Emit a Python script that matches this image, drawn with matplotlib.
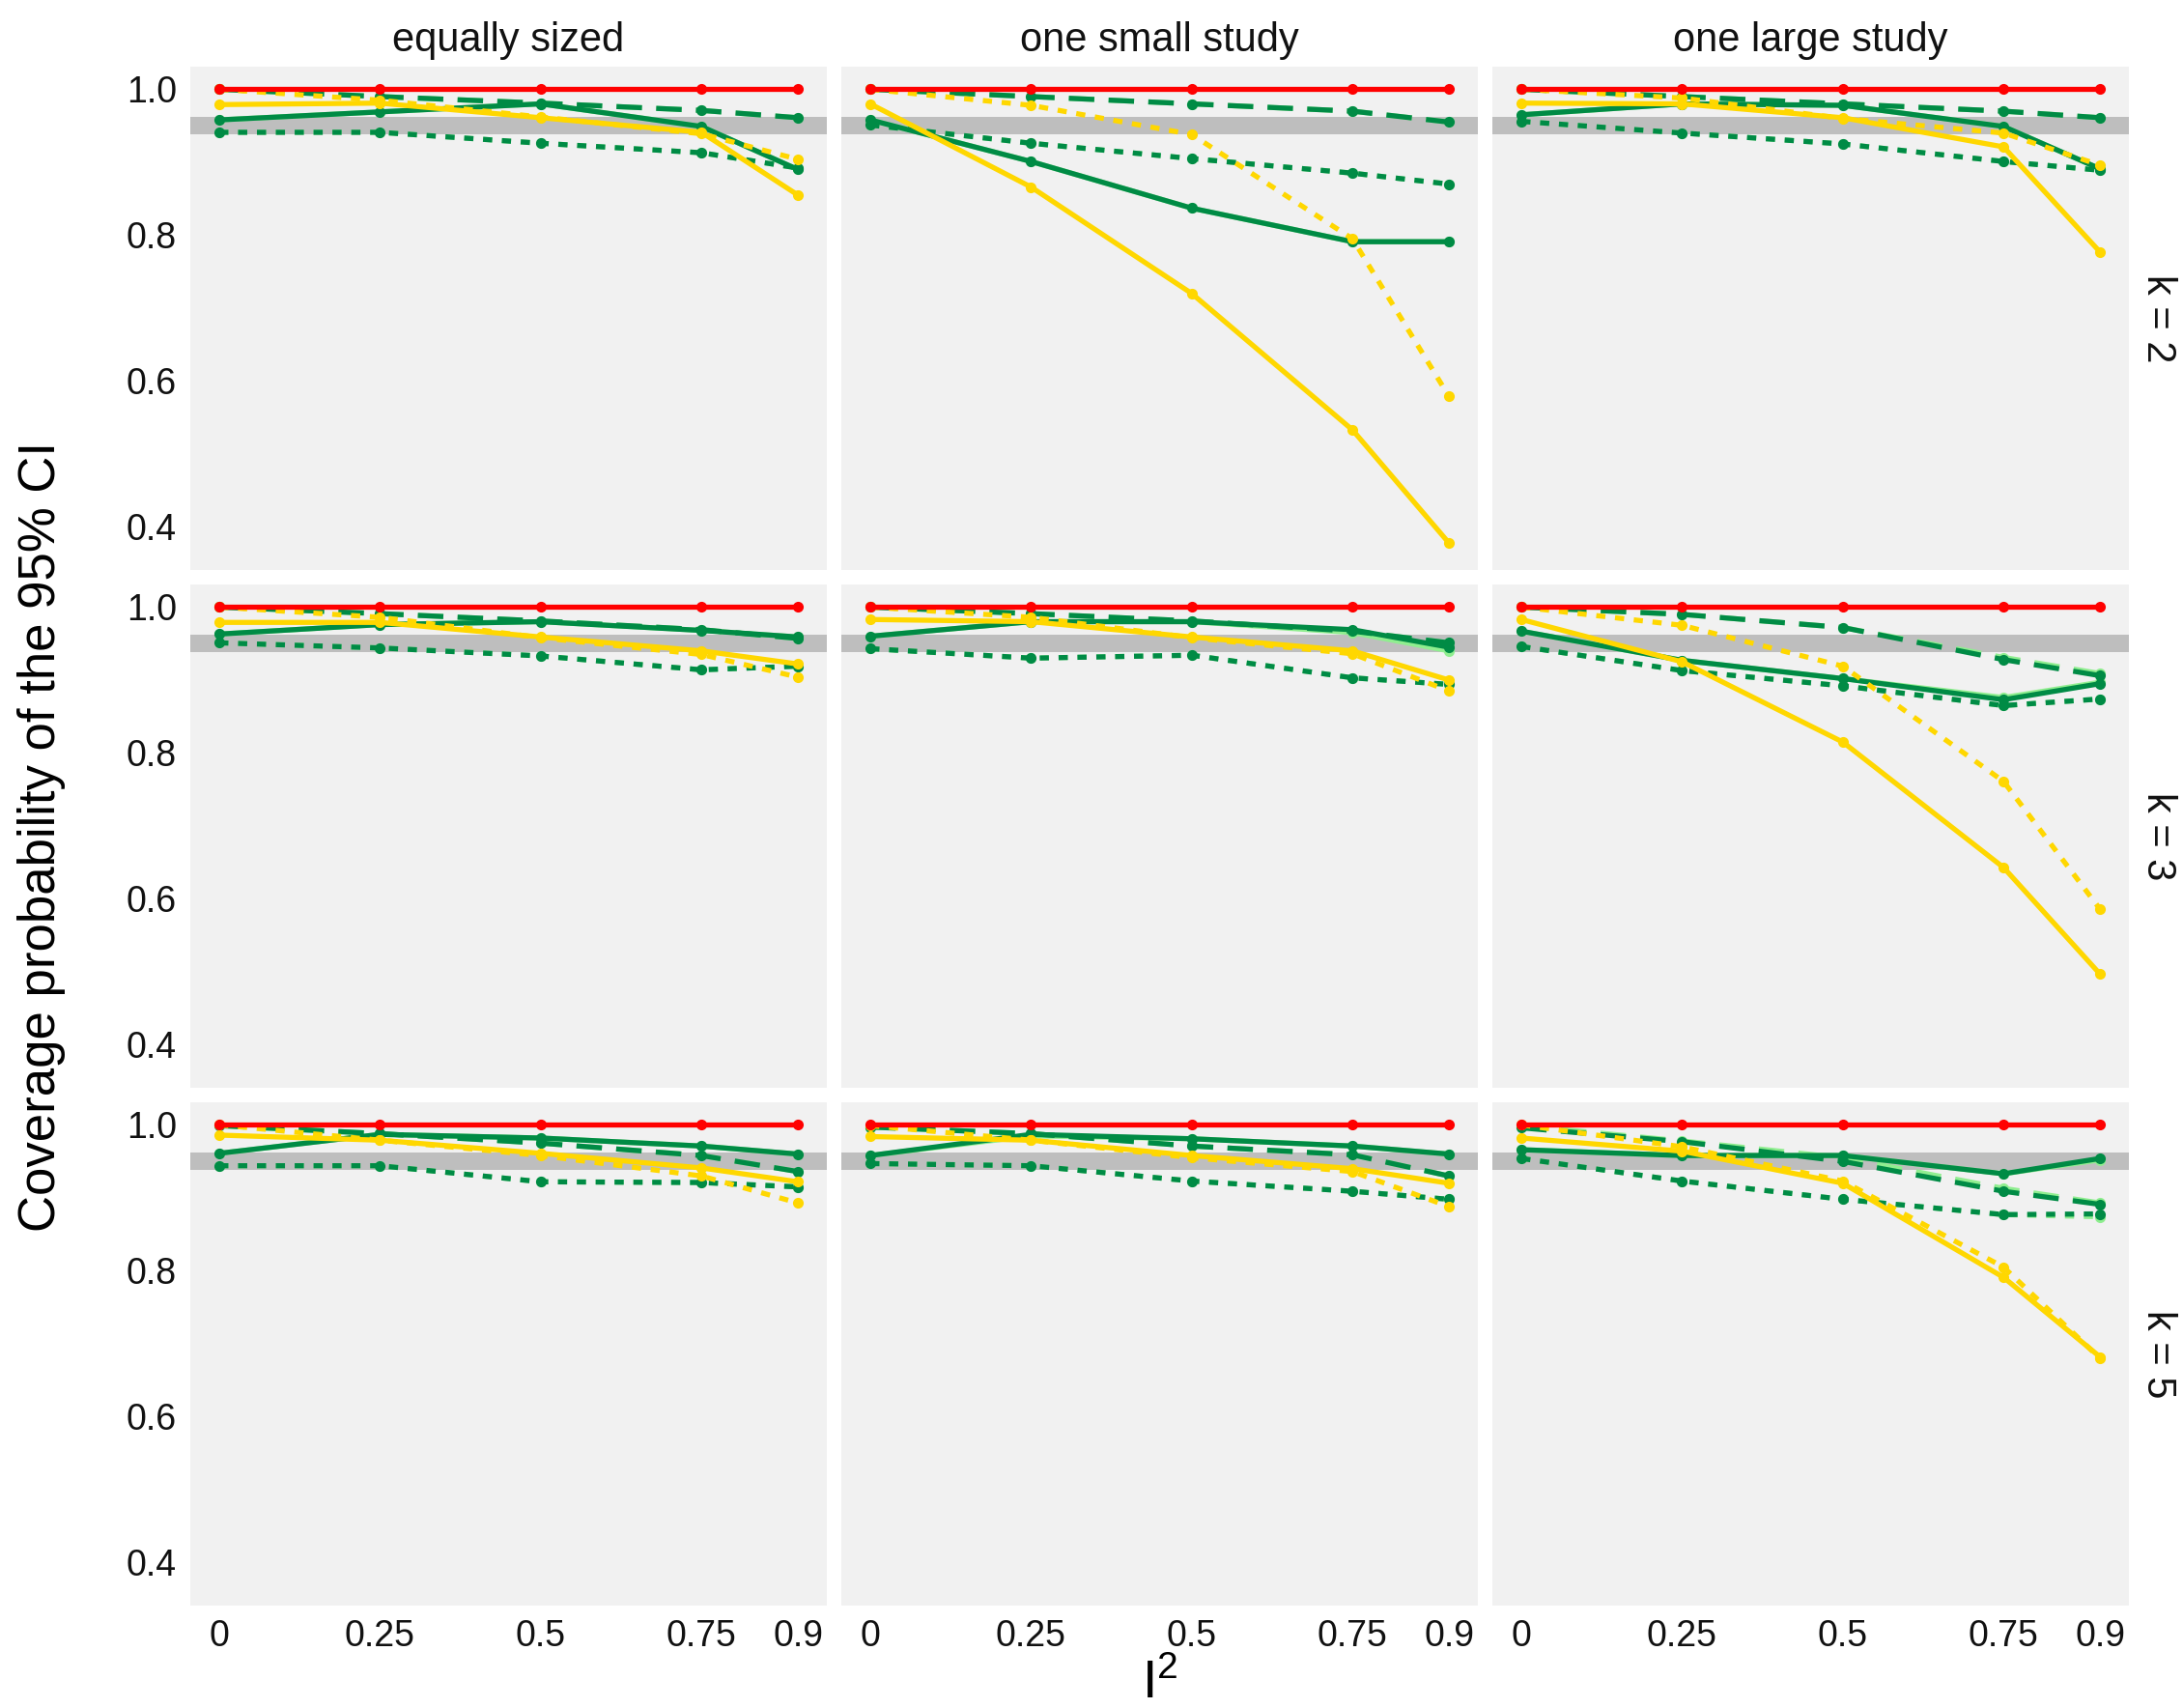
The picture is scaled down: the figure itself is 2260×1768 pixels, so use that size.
import matplotlib
matplotlib.use("Agg")
import matplotlib.pyplot as plt

plt.rcParams['font.family'] = ['Liberation Sans', 'DejaVu Sans']
plt.rcParams['mathtext.fontset'] = 'custom'
plt.rcParams['mathtext.rm'] = 'Liberation Sans'

# x values (I^2) and facet labels
i2 = [0, 0.25, 0.5, 0.75, 0.9]
i2_labels = ['0', '0.25', '0.5', '0.75', '0.9']
designs = ['equally sized', 'one small study', 'one large study']
k_labels = ['k = 2', 'k = 3', 'k = 5']

# coverage per panel, row-major: (k=2: eq, small, large), (k=3 ...), (k=5 ...)
red_solid = [
    [1.0, 1.0, 1.0, 1.0, 1.0], [1.0, 1.0, 1.0, 1.0, 1.0], [1.0, 1.0, 1.0, 1.0, 1.0],
    [1.0, 1.0, 1.0, 1.0, 1.0], [1.0, 1.0, 1.0, 1.0, 1.0], [1.0, 1.0, 1.0, 1.0, 1.0],
    [1.0, 1.0, 1.0, 1.0, 1.0], [1.0, 1.0, 1.0, 1.0, 1.0], [1.0, 1.0, 1.0, 1.0, 1.0],
]
yellow_solid = [
    [0.979, 0.981, 0.961, 0.941, 0.855], [0.980, 0.866, 0.720, 0.533, 0.378], [0.981, 0.980, 0.961, 0.921, 0.777],
    [0.979, 0.979, 0.959, 0.940, 0.922], [0.983, 0.980, 0.959, 0.940, 0.900], [0.983, 0.925, 0.815, 0.643, 0.497],
    [0.986, 0.979, 0.961, 0.941, 0.922], [0.984, 0.979, 0.958, 0.940, 0.920], [0.982, 0.964, 0.920, 0.791, 0.682],
]
yellow_dotted = [
    [1.000, 0.985, 0.962, 0.939, 0.904], [1.000, 0.978, 0.938, 0.795, 0.579], [1.000, 0.988, 0.960, 0.940, 0.896],
    [1.000, 0.986, 0.958, 0.935, 0.904], [1.000, 0.986, 0.958, 0.936, 0.885], [1.000, 0.975, 0.919, 0.761, 0.586],
    [1.000, 0.979, 0.958, 0.930, 0.893], [0.999, 0.979, 0.955, 0.936, 0.888], [1.000, 0.970, 0.923, 0.805, 0.680],
]
green_solid = [
    [0.958, 0.969, 0.980, 0.949, 0.890], [0.958, 0.901, 0.837, 0.791, 0.791], [0.965, 0.980, 0.978, 0.949, 0.891],
    [0.963, 0.976, 0.980, 0.968, 0.959], [0.960, 0.980, 0.980, 0.969, 0.945], [0.967, 0.927, 0.902, 0.873, 0.895],
    [0.961, 0.987, 0.982, 0.971, 0.960], [0.958, 0.987, 0.981, 0.971, 0.960], [0.966, 0.958, 0.958, 0.933, 0.954],
]
green_dashed = [
    [1.000, 0.990, 0.981, 0.971, 0.961], [1.000, 0.990, 0.980, 0.970, 0.955], [1.000, 0.990, 0.980, 0.970, 0.961],
    [1.000, 0.991, 0.981, 0.969, 0.957], [1.000, 0.991, 0.981, 0.967, 0.951], [1.000, 0.990, 0.972, 0.928, 0.906],
    [0.999, 0.988, 0.975, 0.958, 0.936], [0.997, 0.988, 0.971, 0.959, 0.930], [0.996, 0.977, 0.950, 0.909, 0.891],
]
green_dotted = [
    [0.941, 0.941, 0.926, 0.913, 0.892], [0.951, 0.926, 0.905, 0.885, 0.870], [0.956, 0.940, 0.925, 0.901, 0.889],
    [0.951, 0.944, 0.933, 0.914, 0.919], [0.943, 0.930, 0.934, 0.903, 0.894], [0.946, 0.913, 0.892, 0.865, 0.874],
    [0.944, 0.944, 0.922, 0.921, 0.915], [0.947, 0.944, 0.923, 0.909, 0.898], [0.954, 0.923, 0.898, 0.877, 0.878],
]
lgreen_solid = [
    [0.958, 0.969, 0.980, 0.949, 0.890], [0.958, 0.901, 0.837, 0.791, 0.791], [0.965, 0.980, 0.978, 0.949, 0.891],
    [0.963, 0.976, 0.980, 0.968, 0.959], [0.960, 0.980, 0.980, 0.965, 0.940], [0.967, 0.927, 0.902, 0.876, 0.897],
    [0.961, 0.987, 0.982, 0.971, 0.960], [0.958, 0.985, 0.981, 0.971, 0.960], [0.966, 0.958, 0.958, 0.933, 0.952],
]
lgreen_dashed = [
    [1.000, 0.990, 0.981, 0.971, 0.961], [1.000, 0.990, 0.980, 0.970, 0.955], [1.000, 0.990, 0.980, 0.970, 0.961],
    [1.000, 0.991, 0.981, 0.969, 0.957], [1.000, 0.991, 0.981, 0.967, 0.951], [1.000, 0.990, 0.972, 0.931, 0.909],
    [0.999, 0.988, 0.975, 0.958, 0.936], [0.997, 0.988, 0.971, 0.959, 0.930], [0.999, 0.978, 0.955, 0.913, 0.893],
]
lgreen_dotted = [
    [0.941, 0.941, 0.926, 0.913, 0.892], [0.951, 0.926, 0.905, 0.885, 0.870], [0.956, 0.940, 0.925, 0.901, 0.889],
    [0.951, 0.944, 0.933, 0.914, 0.919], [0.943, 0.930, 0.934, 0.903, 0.894], [0.946, 0.913, 0.892, 0.865, 0.874],
    [0.944, 0.944, 0.922, 0.921, 0.915], [0.947, 0.944, 0.923, 0.909, 0.898], [0.954, 0.923, 0.898, 0.877, 0.874],
]
band_low, band_high = 0.9385, 0.9615

RED = '#FF0000'
YELLOW = '#FFD700'
GREEN = '#008B45'
LGREEN = '#90EE90'

DASHED = (0, (5, 2.8))
DOTTED = (0, (1.8, 1.9))

series = [
    (lgreen_solid, LGREEN, '-'),
    (lgreen_dashed, LGREEN, DASHED),
    (lgreen_dotted, LGREEN, DOTTED),
    (green_solid, GREEN, '-'),
    (green_dashed, GREEN, DASHED),
    (green_dotted, GREEN, DOTTED),
    (yellow_solid, YELLOW, '-'),
    (yellow_dotted, YELLOW, DOTTED),
    (red_solid, RED, '-'),
]

W, H = 2260, 1768
fig = plt.figure(figsize=(W / 200, H / 200), dpi=200)

col_x = [197, 871, 1545]
row_y = [69, 605, 1141]
pw, ph = 659, 521

for r in range(3):
    for c in range(3):
        idx = r * 3 + c
        ax = fig.add_axes([col_x[c] / W, 1 - (row_y[r] + ph) / H, pw / W, ph / H])
        ax.set_facecolor('#F1F1F1')
        for s in ax.spines.values():
            s.set_visible(False)
        ax.axhspan(band_low, band_high, color='#BEBEBE', lw=0, zorder=1)
        for data, col, ls in series:
            ax.plot(i2, data[idx], color=col, linestyle=ls, lw=1.9,
                    marker='o', ms=3.0, mec=col, mfc=col,
                    dash_capstyle='butt', solid_capstyle='butt', zorder=3)
        ax.set_xlim(-0.045, 0.945)
        ax.set_ylim(0.341, 1.031)
        ax.set_yticks([0.4, 0.6, 0.8, 1.0])
        ax.set_xticks(i2)
        ax.tick_params(length=0, labelsize=13.5, labelcolor='#111111', pad=5)
        if c == 0:
            ax.set_yticklabels(['0.4', '0.6', '0.8', '1.0'])
        else:
            ax.set_yticklabels([])
        if r == 2:
            ax.set_xticklabels(i2_labels)
        else:
            ax.set_xticklabels([])
        if r == 0:
            ax.text(0.5, 1 + 27 / ph, designs[c], transform=ax.transAxes,
                    ha='center', va='center', fontsize=15, color='#111111')
        if c == 2:
            ax.text(1 + 30 / pw, 0.5, k_labels[r], transform=ax.transAxes,
                    ha='center', va='center', rotation=-90, fontsize=15, color='#111111')

fig.text(43 / W, 1 - 866 / H, 'Coverage probability of the 95% CI',
         rotation=90, ha='center', va='center', fontsize=19)
fig.text((197 + 2204) / 2 / W, 1 - 1758 / H, r'$\mathregular{I^2}$',
         ha='center', va='baseline', fontsize=20)

fig.savefig('out.png', dpi=200)
